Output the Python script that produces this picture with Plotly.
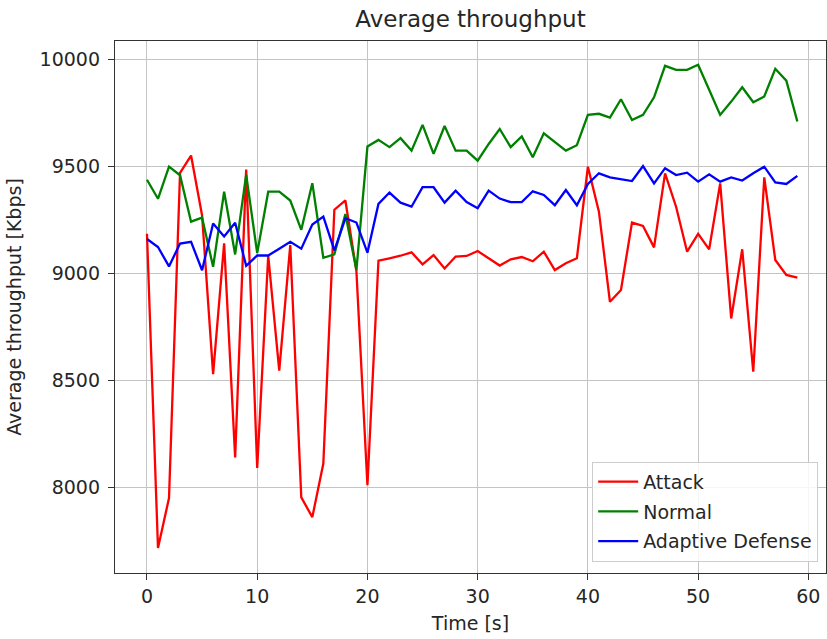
import plotly.graph_objects as go

time_s = list(range(60))

attack = [9185, 7717, 7950, 9469, 9550, 9270, 8529, 9140, 8140, 9485,
          8091, 9083, 8545, 9132, 7953, 7861, 8111, 9297, 9340, 9010,
          8010, 9059, 9070, 9082, 9098, 9042, 9085, 9022, 9078, 9081,
          9104, 9070, 9036, 9065, 9076, 9056, 9101, 9015, 9047, 9070,
          9498, 9288, 8867, 8922, 9237, 9221, 9121, 9467, 9311, 9101,
          9184, 9112, 9420, 8789, 9112, 8540, 9448, 9062, 8992, 8980]

normal = [9437, 9348, 9498, 9458, 9241, 9260, 9030, 9381, 9088, 9461,
          9094, 9381, 9381, 9340, 9203, 9421, 9072, 9088, 9277, 9015,
          9592, 9623, 9589, 9631, 9573, 9693, 9558, 9688, 9573, 9573,
          9526, 9604, 9674, 9589, 9639, 9542, 9654, 9615, 9573, 9598,
          9740, 9745, 9727, 9813, 9716, 9740, 9822, 9969, 9950, 9950,
          9974, 9857, 9740, 9802, 9869, 9799, 9826, 9955, 9900, 9709]

adaptive = [9160, 9123, 9032, 9139, 9147, 9014, 9233, 9172, 9236, 9035,
            9083, 9083, 9115, 9147, 9115, 9228, 9265, 9107, 9257, 9237,
            9096, 9324, 9377, 9330, 9311, 9402, 9402, 9330, 9386, 9333,
            9304, 9386, 9349, 9332, 9333, 9383, 9366, 9318, 9389, 9318,
            9417, 9467, 9448, 9439, 9431, 9501, 9420, 9491, 9459, 9470,
            9428, 9462, 9428, 9448, 9433, 9467, 9498, 9424, 9417, 9455]

series_names = ["Attack", "Normal", "Adaptive Defense"]
series_colors = ["#ff0000", "#008000", "#0000ff"]
series_values = [attack, normal, adaptive]

x_ticks = [0, 10, 20, 30, 40, 50, 60]
x_tick_labels = ["0", "10", "20", "30", "40", "50", "60"]
y_ticks = [8000, 8500, 9000, 9500, 10000]
y_tick_labels = ["8000", "8500", "9000", "9500", "10000"]

FONT = "DejaVu Sans"
TXT = "#262626"

fig = go.Figure()
for name, color, vals in zip(series_names, series_colors, series_values):
    fig.add_trace(go.Scatter(
        x=time_s, y=vals, mode="lines", name=name,
        line=dict(color=color, width=2.3),
        legendgroup=name,
    ))

axis_common = dict(
    showline=True, mirror=True, linecolor="#333333", linewidth=1.3,
    ticks="outside", ticklen=6, tickwidth=1.2, tickcolor="#333333",
    showgrid=True, gridcolor="#c4c4c4", gridwidth=1.2,
    zeroline=False,
    tickfont=dict(family=FONT, size=19, color=TXT),
)

fig.update_layout(
    width=827, height=639,
    margin=dict(l=115, r=1, t=41, b=66),
    paper_bgcolor="white", plot_bgcolor="white",
    font=dict(family=FONT, color=TXT),
    title=dict(text="Average throughput", x=0.5, xref="paper",
               y=1 - 19 / 639, yref="container", yanchor="middle",
               font=dict(family=FONT, size=23, color=TXT)),
    xaxis=dict(range=[-2.9, 61.6], tickvals=x_ticks, ticktext=x_tick_labels,
               title=dict(text="Time [s]", standoff=10,
                          font=dict(family=FONT, size=19, color=TXT)),
               **axis_common),
    yaxis=dict(range=[7600, 10085], tickvals=y_ticks, ticktext=y_tick_labels,
               ticklabelstandoff=4,
               title=dict(text="Average throughput [Kbps]", standoff=12,
                          font=dict(family=FONT, size=19, color=TXT)),
               **axis_common),
    legend=dict(x=0.989, y=0.021, xanchor="right", yanchor="bottom",
                bgcolor="rgba(255,255,255,0.85)", bordercolor="#cccccc",
                borderwidth=1, tracegroupgap=2, itemwidth=40,
                font=dict(family=FONT, size=19, color=TXT)),
    showlegend=True,
)

fig.write_html("out.html")
